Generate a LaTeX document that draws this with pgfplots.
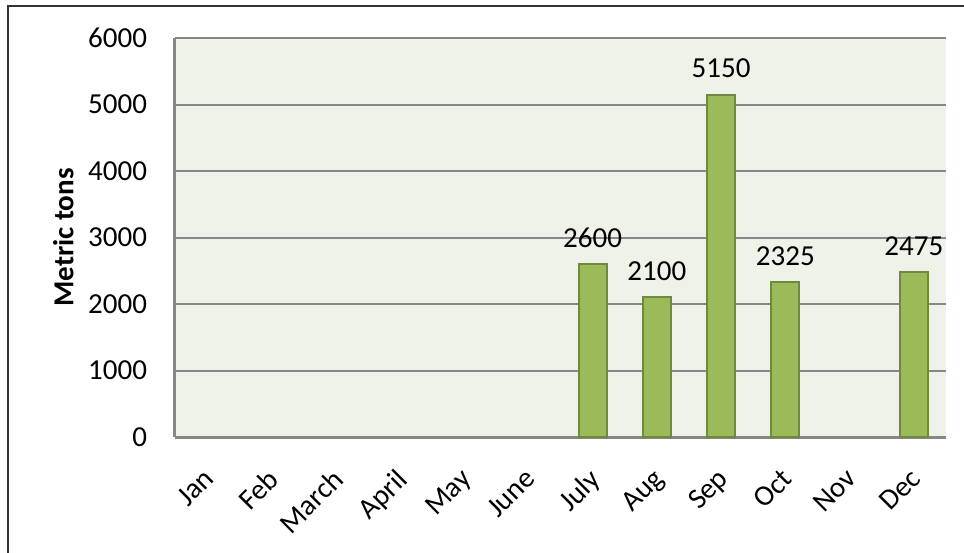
\documentclass[border=0pt]{standalone}
\usepackage{pgfplots}
\pgfplotsset{compat=1.18}
\usepackage{fontspec}
\setmainfont{Carlito}
\definecolor{barfill}{HTML}{9BBB59}
\definecolor{baredge}{HTML}{71893F}
\definecolor{plotbg}{HTML}{EFF2E8}
\definecolor{gridc}{HTML}{878787}
\begin{document}
\fontsize{29}{34}\selectfont
\begin{tikzpicture}[x=1pt,y=1pt]
\useasboundingbox (0,0) rectangle (964,552);
\draw[line width=1.5pt, black!80] (8,-5) -- (8,546) -- (970,546);
\begin{axis}[
  at={(175pt,115pt)}, anchor=south west,
  scale only axis, width=771pt, height=399pt,
  xmin=-0.5, xmax=11.5, ymin=0, ymax=6000,
  ytick={0,1000,...,6000},
  xtick={0,...,11},
  xticklabels={Jan,Feb,March,April,May,June,July,Aug,Sep,Oct,Nov,Dec},
  x tick label style={xshift=-5pt, yshift=-12pt, rotate=45, anchor=north east},
  y tick label style={xshift=-16pt},
  /pgf/number format/assume math mode=true,
  /pgf/number format/1000 sep={},
  tick style={draw=none},
  ymajorgrids,
  grid style={gridc, line width=2pt},
  axis x line=bottom, axis y line=left,
  axis line style={-, gridc, line width=3pt},
  axis background/.style={fill=plotbg},
  ylabel={\bfseries Metric tons},
  ylabel style={yshift=-5pt},
  font=\fontsize{29}{34}\selectfont,
  ybar, bar width=28pt,
  nodes near coords,
  nodes near coords style={font=\fontsize{29}{34}\selectfont, black, yshift=6pt},
  clip=false,
]
\addplot[fill=barfill, draw=baredge, line width=2pt, bar shift=0pt]
  coordinates {(6,2600) (7,2100) (8,5150) (9,2325) (11,2475)};
\end{axis}
\end{tikzpicture}
\end{document}
